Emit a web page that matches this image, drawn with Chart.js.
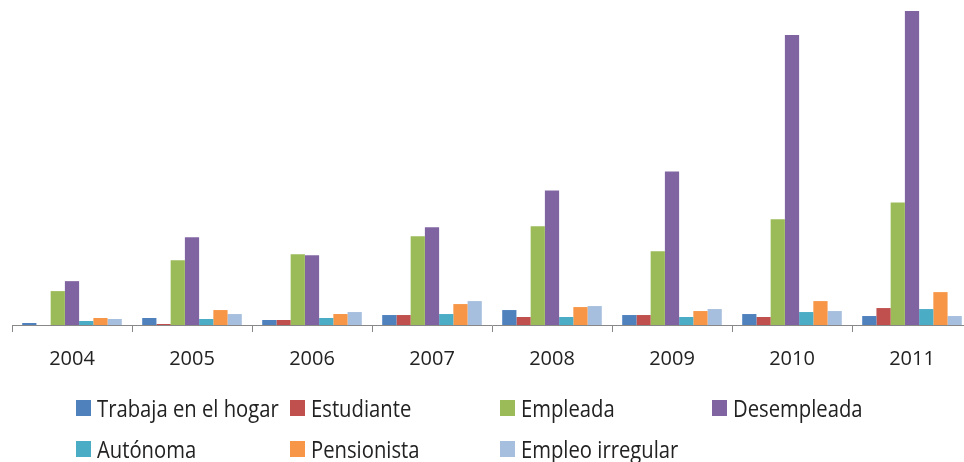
<!DOCTYPE html>
<html>
<head>
<meta charset="utf-8">
<script src="https://cdn.jsdelivr.net/npm/chart.js@4"></script>
<style>
  html, body { margin: 0; padding: 0; background: #fff; overflow: hidden; width: 964px; height: 462px; }
  #wrap { position: relative; width: 964px; height: 462px; overflow: hidden; }
  #chart { position: absolute; left: 0; top: 0; }
  #legend { position: absolute; left: 0; top: 0; width: 964px; height: 462px; font-family: "Open Sans", sans-serif; font-size: 23px; color: #222; }
  .box { position: absolute; width: 15px; height: 16px; }
  .txt { position: absolute; white-space: nowrap; line-height: 32px; transform: scaleX(0.88); transform-origin: 0 0; }
</style>
</head>
<body>
<div id="wrap">
  <canvas id="chart" width="980" height="390"></canvas>
  <div id="legend"></div>
</div>
<script>
  const years = ['2004', '2005', '2006', '2007', '2008', '2009', '2010', '2011'];

  const seriesNames = ['Trabaja en el hogar', 'Estudiante', 'Empleada', 'Desempleada',
                       'Autónoma', 'Pensionista', 'Empleo irregular'];
  const seriesColors = ['#4F81BD', '#C0504D', '#9BBB59', '#8064A2', '#4BACC6', '#F79646', '#A7BFDE'];

  // values (no axis in the original, units are relative)
  const trabaja     = [2, 7, 5, 10, 15, 10, 11, 9];
  const estudiante  = [0, 1, 5, 10, 8, 10, 8, 17];
  const empleada    = [34, 65, 71, 89, 99, 74, 106, 123];
  const desempleada = [44, 88, 70, 98, 135, 154, 291, 315];
  const autonoma    = [4, 6, 7, 11, 8, 8, 13, 16];
  const pensionista = [7, 15, 11, 21, 18, 14, 24, 33];
  const irregular   = [6, 11, 13, 24, 19, 16, 14, 9];

  const seriesData = [trabaja, estudiante, empleada, desempleada, autonoma, pensionista, irregular];

  const datasets = seriesNames.map((name, i) => ({
    label: name,
    data: seriesData[i],
    backgroundColor: seriesColors[i],
    borderWidth: 0,
    categoryPercentage: 0.83,
    barPercentage: 1.0,
  }));

  const ctx = document.getElementById('chart').getContext('2d');
  const myChart = new Chart(ctx, {
    type: 'bar',
    data: { labels: years, datasets: datasets },
    options: {
      responsive: false,
      animation: false,
      layout: { padding: { left: 12, right: 8, top: 10, bottom: 4 } },
      plugins: { legend: { display: false }, tooltip: { enabled: false } },
      scales: {
        x: {
          grid: { offset: true, drawOnChartArea: false, drawTicks: true, tickLength: 7, color: '#888' },
          border: { display: true, color: '#888' },
          ticks: { color: '#222', font: { family: 'Open Sans', size: 20 }, padding: 15 },
        },
        y: {
          display: false,
          min: 0,
          max: 316,
        },
      },
    },
  });

  // legend laid out in fixed columns like the original
  const legendEl = document.getElementById('legend');
  const colX = [76, 290, 500, 712];
  const rowY = [392, 433];
  seriesNames.forEach((name, i) => {
    const x = colX[i % 4];
    const y = rowY[Math.floor(i / 4)];
    const box = document.createElement('div');
    box.className = 'box';
    box.style.left = x + 'px';
    box.style.top = (y + 8) + 'px';
    box.style.background = seriesColors[i];
    const txt = document.createElement('div');
    txt.className = 'txt';
    txt.style.left = (x + 21) + 'px';
    txt.style.top = y + 'px';
    txt.textContent = name;
    legendEl.appendChild(box);
    legendEl.appendChild(txt);
  });
</script>
</body>
</html>
